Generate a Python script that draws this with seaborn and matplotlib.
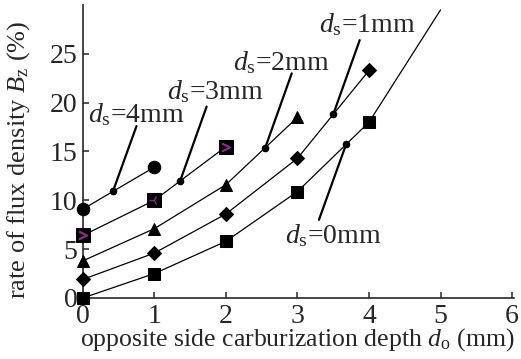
import numpy as np
import pandas as pd
import seaborn as sns
import matplotlib.pyplot as plt

# data
depth = [0, 1, 2, 3, 4]
ds0 = [0.0, 2.5, 5.8, 10.9, 18.0]
ds1 = [1.9, 4.6, 8.6, 14.3, 23.3]
ds2 = [3.8, 7.1, 11.6, 18.5]
ds3 = [6.4, 10.0, 15.5]
ds4 = [9.1, 13.4]
# ds=0 trend continues past the last point
ds0_ext_x = [4, 5]
ds0_ext_y = [18.0, 29.5]

labels = ["0mm", "1mm", "2mm", "3mm", "4mm"]
series = [ds0, ds1, ds2, ds3, ds4]
markers = ["s", "D", "^", "s", "o"]
msizes = [8.5, 7, 9, 9.5, 9]
# where each label's pointer touches its curve (x), pointer end, text pos
pointer_x = [3.68, 3.5, 2.55, 1.36, 0.42]
pointer_end = [(3.30, 8.0), (3.87, 26.4), (2.92, 23.0), (1.73, 19.6), (0.75, 17.6)]
text_pos = [(3.50, 5.6), (3.98, 27.2), (2.77, 23.3), (1.85, 20.4), (0.75, 18.0)]

sns.set_style("ticks")
plt.rcParams['font.family'] = ['Liberation Serif', 'DejaVu Serif']
plt.rcParams['mathtext.fontset'] = 'custom'
plt.rcParams['mathtext.rm'] = 'Liberation Serif'
plt.rcParams['mathtext.it'] = 'Liberation Serif:italic'

fig = plt.figure(figsize=(5.21, 3.59), dpi=100)
ax = fig.add_axes([0.159, 0.170, 0.828, 0.816])

for ys, m, ms in zip(series, markers, msizes):
    df = pd.DataFrame({"d_o": depth[:len(ys)], "rate": ys})
    sns.lineplot(data=df, x="d_o", y="rate", marker=m, markersize=ms,
                 color="black", markeredgecolor="black", linewidth=0.9,
                 ax=ax, clip_on=False, zorder=3)

sns.lineplot(x=ds0_ext_x, y=ds0_ext_y, color="black", linewidth=0.9, ax=ax)

# purple marks inside the ds=3mm squares
ax.plot([0, 2], [ds3[0], ds3[2]], linestyle="none", marker="$>$",
        color="#8a2a8a", markersize=6, zorder=4, clip_on=False)
ax.plot([1], [ds3[1]], linestyle="none", marker="3",
        color="#8a2a8a", markersize=7, markeredgewidth=1, zorder=4)

# label pointers
for ys, px, (ex, ey), (tx, ty), lab in zip(series, pointer_x, pointer_end,
                                            text_pos, labels):
    xs = depth[:len(ys)]
    py = np.interp(px, xs, ys) if px <= xs[-1] else np.interp(px, [4, 5], ds0_ext_y)
    ax.plot([px, ex], [py, ey], color="black", linewidth=1.6, zorder=2)
    ax.plot([px], [py], marker="o", markersize=4.5, color="black", zorder=4)
    ax.text(tx, ty, r"$d_{\mathrm{s}}$=" + lab, fontsize=20,
            ha="center", va="baseline")

ax.set_xlim(0, 6.03)
ax.set_ylim(0, 30)
ax.set_xticks(range(0, 7))
ax.set_yticks(range(0, 30, 5))
ax.tick_params(direction="in", length=4, width=1.1, labelsize=20)
ax.tick_params(axis="x", pad=4)
ax.tick_params(axis="y", pad=4)
for s in ["top", "right"]:
    ax.spines[s].set_visible(False)
for s in ["left", "bottom"]:
    ax.spines[s].set_linewidth(1.2)

ax.set_xlabel(r"opposite side carburization depth $d_{\mathrm{o}}$ (mm)",
              fontsize=18.5)
ax.set_ylabel(r"rate of flux density $B_{\mathrm{z}}$ (%)", fontsize=19)
ax.xaxis.set_label_coords(0.497, -0.097)
ax.yaxis.set_label_coords(-0.118, 0.47)

fig.savefig("out.png", dpi=100)
